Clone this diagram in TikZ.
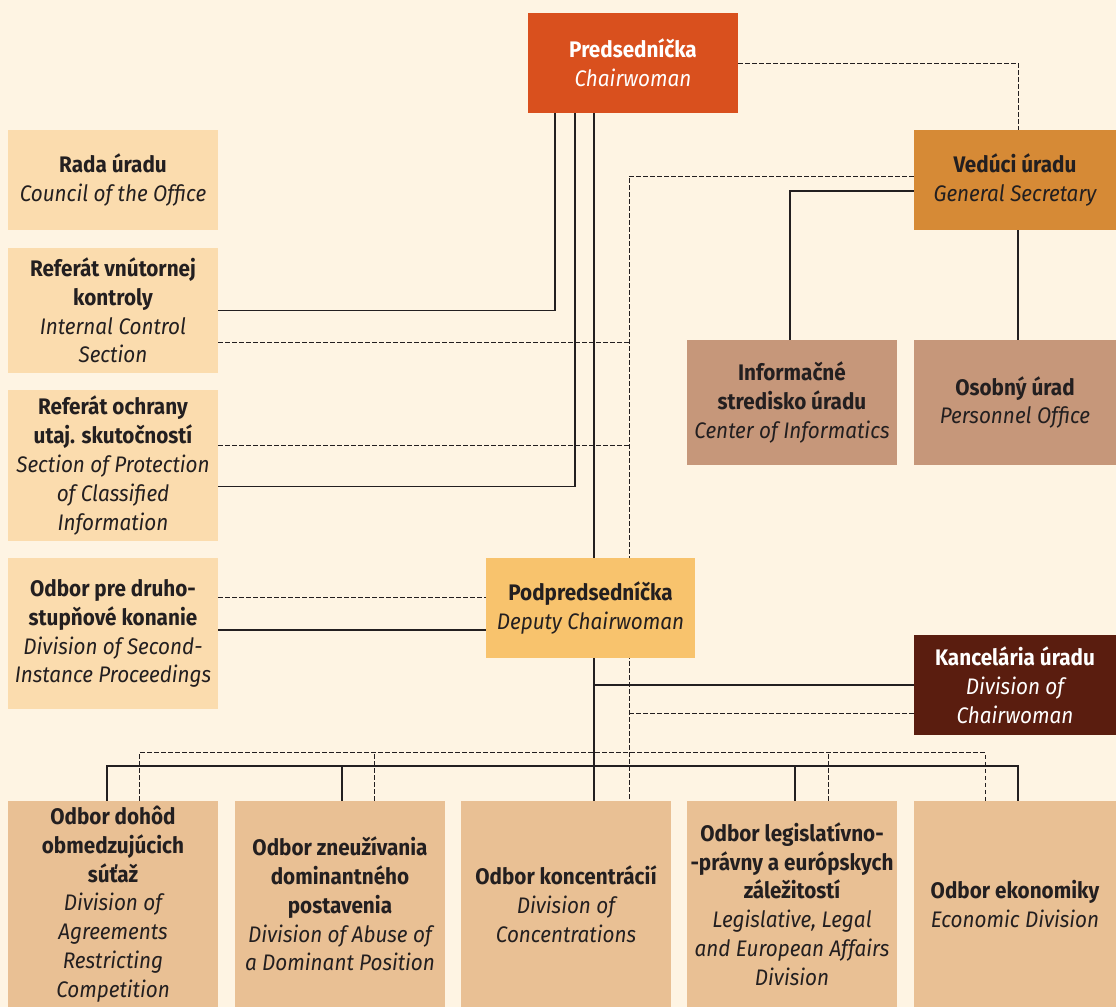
\documentclass[tikz,border=0pt]{standalone}
\usepackage{fontspec}
\setmainfont{Fira Sans}[FakeStretch=0.92]
\usetikzlibrary{backgrounds}
\definecolor{bg}{HTML}{FEF4E3}
\definecolor{ink}{HTML}{231F20}
\definecolor{chairC}{HTML}{D9501E}
\definecolor{secC}{HTML}{D68A36}
\definecolor{lightC}{HTML}{FBDCAE}
\definecolor{brownC}{HTML}{C6977A}
\definecolor{depC}{HTML}{F8C36D}
\definecolor{offC}{HTML}{5A1D0F}
\definecolor{divC}{HTML}{E9C094}
\newcommand{\enn}{\mdseries\itshape}
\tikzset{
  unit/.style={rectangle, inner sep=0pt, align=center, text=ink,
    minimum width=210pt, minimum height=100pt,
    font=\fontsize{22.5}{28.8}\selectfont\bfseries},
  link/.style={draw=ink, line width=1.4pt},
  dlink/.style={draw=ink, line width=1pt, dash pattern=on 4.5pt off 2.5pt}
}

\begin{document}
\begin{tikzpicture}[x=1pt,y=-1pt]
  % top
  \node[unit, fill=chairC, text=white] (chair) at (633,63) {Predsedníčka\\\enn Chairwoman};
  \node[unit, fill=secC, minimum width=202pt] (sec) at (1015,180) {Vedúci úradu\\\enn General Secretary};

  % left column
  \node[unit, fill=lightC] (council) at (113,180) {Rada úradu\\\enn Council of the Office};
  \node[unit, fill=lightC, minimum height=125pt] (control) at (113,310.5)
    {Referát vnútornej\\kontroly\\\enn Internal Control\\\enn Section};
  \node[unit, fill=lightC, minimum height=151pt] (protect) at (113,465.5)
    {Referát ochrany\\utaj. skutočností\\\enn Section of Protection\\\enn of Classified\\\enn Information};
  \node[unit, fill=lightC, minimum height=151pt] (second) at (113,633.5)
    {Odbor pre druho-\\stupňové konanie\\\enn Division of Second-\\\enn Instance Proceedings};

  % right column
  \node[unit, fill=brownC, minimum height=125pt] (info) at (792,402.5)
    {Informačné\\stredisko úradu\\\enn Center of Informatics};
  \node[unit, fill=brownC, minimum width=202pt, minimum height=125pt] (personnel) at (1015,402.5)
    {Osobný úrad\\\enn Personnel Office};
  \node[unit, fill=depC, minimum width=209pt] (deputy) at (590.5,608)
    {Podpredsedníčka\\\enn Deputy Chairwoman};
  \node[unit, fill=offC, text=white, minimum width=202pt] (office) at (1015,685)
    {Kancelária úradu\\\enn Division of\\\enn Chairwoman};

  % divisions
  \node[unit, fill=divC, minimum height=206pt] (agree) at (113,904)
    {Odbor dohôd\\obmedzujúcich\\súťaž\\\enn Division of\\\enn Agreements\\\enn Restricting\\\enn Competition};
  \node[unit, fill=divC, minimum height=206pt] (abuse) at (340,904)
    {Odbor zneužívania\\dominantného\\postavenia\\\enn Division of Abuse of\\\enn a Dominant Position};
  \node[unit, fill=divC, minimum height=206pt] (conc) at (566,904)
    {Odbor koncentrácií\\\enn Division of\\\enn Concentrations};
  \node[unit, fill=divC, minimum height=206pt] (legal) at (792,904)
    {Odbor legislatívno-\\-právny a európskych\\záležitostí\\\enn Legislative, Legal\\\enn and European Affairs\\\enn Division};
  \node[unit, fill=divC, minimum width=202pt, minimum height=206pt] (econ) at (1015,904)
    {Odbor ekonomiky\\\enn Economic Division};

  \coordinate (spine) at ([xshift=-39]chair.south);
  \coordinate (dspine) at ([xshift=63]conc.north);

  \begin{pgfonlayer}{background}
    \fill[bg] (0,0) rectangle (1116,1007);
    % solid lines
    \draw[link] ([xshift=-78]chair.south) |- (control.east);
    \draw[link] ([xshift=-58]chair.south) |- ([yshift=-21]protect.east);
    \draw[link] (spine) -- ([xshift=28]conc.north);
    \draw[link] ([yshift=3.5]second.east) -- ([yshift=3.5]second.east -| deputy.west);
    \draw[link] (office.west) -- (office.west -| spine);
    \draw[link] ([yshift=-11]sec.west) -| ([xshift=-2]info.north);
    \draw[link] ([xshift=3]sec.south) -- ([xshift=3]personnel.north);
    \draw[link] ([xshift=-6]agree.north) -- ++(0,-35) -| ([xshift=3]econ.north);
    \foreach \n/\s in {abuse/2, legal/3}
      \draw[link] ([xshift=\s]\n.north) -- ++(0,-35);
    % dashed lines
    \draw[dlink] (chair.east) -| ([xshift=3]sec.north);
    \draw[dlink] ([yshift=4]sec.west) -| (dspine);
    \draw[dlink] ([yshift=-31.5]control.east) -- ([yshift=-31.5]control.east -| dspine);
    \draw[dlink] ([yshift=20.5]protect.east) -- ([yshift=20.5]protect.east -| dspine);
    \draw[dlink] ([yshift=36.5]second.east) -- ([yshift=36.5]second.east -| deputy.west);
    \draw[dlink] ([yshift=-28]office.west) -- ([yshift=-28]office.west -| dspine);
    \draw[dlink] ([xshift=26]agree.north) -- ++(0,-48) -| ([xshift=-30]econ.north);
    \foreach \n/\s in {abuse/34, legal/36}
      \draw[dlink] ([xshift=\s]\n.north) -- ++(0,-48);
  \end{pgfonlayer}
\end{tikzpicture}
\end{document}
